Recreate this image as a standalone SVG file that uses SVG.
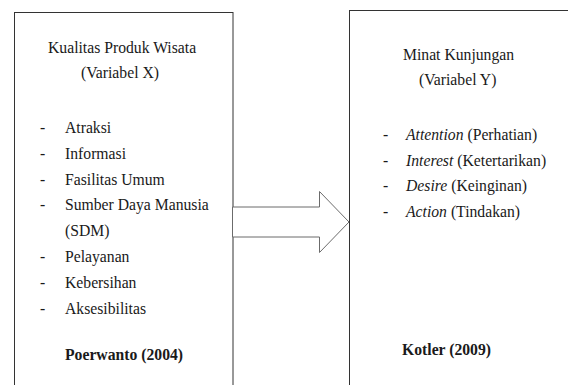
<svg xmlns="http://www.w3.org/2000/svg" width="568" height="385" viewBox="0 0 568 385">
  <style>
    .box { fill: #ffffff; stroke: #333333; stroke-width: 1; }
    .arrow { fill: #ffffff; stroke: #6b6b6b; stroke-width: 1; stroke-linejoin: miter; }
    text { font-family: "Liberation Serif", "Times New Roman", serif; font-size: 15.7px; fill: #1a1a1a; }
    .b { font-weight: bold; }
    .i { font-style: italic; }
  </style>
  <rect width="568" height="385" fill="#ffffff"/>

  <g id="node-x">
    <rect class="box" x="14.5" y="12.5" width="218.5" height="390"/>
    <text x="48" y="53">Kualitas Produk Wisata</text>
    <text x="81" y="78">(Variabel X)</text>
    <text x="40" y="133">-</text><text x="65" y="133">Atraksi</text>
    <text x="40" y="158.8">-</text><text x="65" y="158.8">Informasi</text>
    <text x="40" y="184.6">-</text><text x="65" y="184.6">Fasilitas Umum</text>
    <text x="40" y="210.4">-</text><text x="65" y="210.4">Sumber Daya Manusia</text>
    <text x="65" y="236.2">(SDM)</text>
    <text x="40" y="262">-</text><text x="65" y="262">Pelayanan</text>
    <text x="40" y="287.8">-</text><text x="65" y="287.8">Kebersihan</text>
    <text x="40" y="313.6">-</text><text x="65" y="313.6">Aksesibilitas</text>
    <text class="b" x="65" y="360">Poerwanto (2004)</text>
  </g>

  <g id="node-y">
    <rect class="box" x="349.5" y="10.5" width="240" height="390"/>
    <text x="403" y="60">Minat Kunjungan</text>
    <text x="419" y="85">(Variabel Y)</text>
    <text x="383" y="140">-</text><text x="406" y="140"><tspan class="i">Attention</tspan> (Perhatian)</text>
    <text x="383" y="166">-</text><text x="406" y="166"><tspan class="i">Interest</tspan> (Ketertarikan)</text>
    <text x="383" y="191">-</text><text x="406" y="191"><tspan class="i">Desire</tspan> (Keinginan)</text>
    <text x="383" y="217">-</text><text x="406" y="217"><tspan class="i">Action</tspan> (Tindakan)</text>
    <text class="b" x="402" y="355">Kotler (2009)</text>
  </g>

  <g id="connectors">
    <polygon class="arrow" points="232.5,207 319.5,207 319.5,191.5 349,222 319.5,252.5 319.5,237 232.5,237"/>
  </g>
</svg>
